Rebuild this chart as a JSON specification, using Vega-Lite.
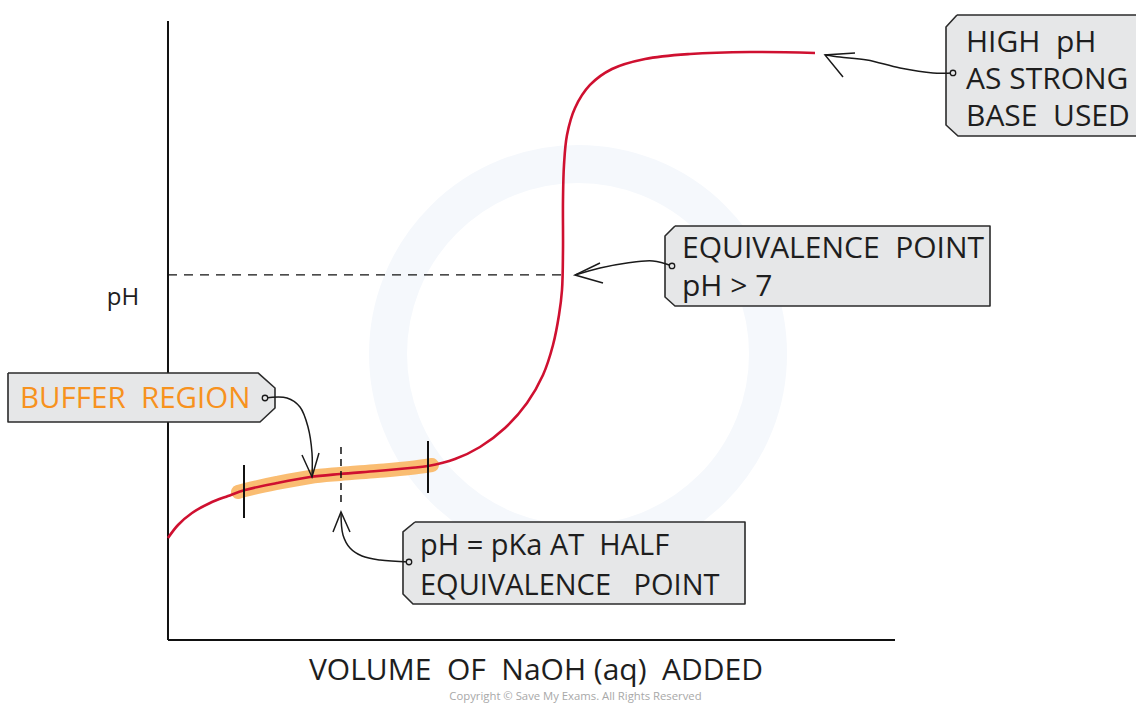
{
  "$schema": "https://vega.github.io/schema/vega-lite/v6.json",
  "width": 1136,
  "height": 704,
  "autosize": {"type": "none"},
  "padding": 0,
  "background": "white",
  "config": {"view": {"stroke": null}},
  "datasets": {
    "curve": [
      {"i": 1, "x": 0, "y": 2.311},
      {"i": 2, "x": 0.688, "y": 2.605},
      {"i": 3, "x": 1.651, "y": 2.877},
      {"i": 4, "x": 2.889, "y": 3.104},
      {"i": 5, "x": 4.127, "y": 3.262},
      {"i": 6, "x": 5.296, "y": 3.398},
      {"i": 7, "x": 7.497, "y": 3.557},
      {"i": 8, "x": 9.766, "y": 3.693},
      {"i": 9, "x": 11.829, "y": 3.761},
      {"i": 10, "x": 14.374, "y": 3.828},
      {"i": 11, "x": 16.644, "y": 3.896},
      {"i": 12, "x": 17.882, "y": 3.942},
      {"i": 13, "x": 19.739, "y": 4.1},
      {"i": 14, "x": 21.458, "y": 4.372},
      {"i": 15, "x": 23.177, "y": 4.803},
      {"i": 16, "x": 24.691, "y": 5.369},
      {"i": 17, "x": 25.791, "y": 6.003},
      {"i": 18, "x": 26.479, "y": 6.683},
      {"i": 19, "x": 26.891, "y": 7.362},
      {"i": 20, "x": 27.098, "y": 7.929},
      {"i": 21, "x": 27.166, "y": 8.835},
      {"i": 22, "x": 27.166, "y": 9.968},
      {"i": 23, "x": 27.235, "y": 10.76},
      {"i": 24, "x": 27.442, "y": 11.44},
      {"i": 25, "x": 27.992, "y": 12.052},
      {"i": 26, "x": 29.023, "y": 12.573},
      {"i": 27, "x": 30.536, "y": 12.935},
      {"i": 28, "x": 32.806, "y": 13.162},
      {"i": 29, "x": 35.901, "y": 13.275},
      {"i": 30, "x": 40.028, "y": 13.32},
      {"i": 31, "x": 44.498, "y": 13.298}
    ],
    "buffer": [
      {"i": 1, "x": 4.814, "y": 3.353},
      {"i": 2, "x": 5.296, "y": 3.398},
      {"i": 3, "x": 7.497, "y": 3.557},
      {"i": 4, "x": 9.766, "y": 3.693},
      {"i": 5, "x": 11.829, "y": 3.761},
      {"i": 6, "x": 14.374, "y": 3.828},
      {"i": 7, "x": 16.644, "y": 3.896},
      {"i": 8, "x": 18.157, "y": 3.964}
    ],
    "boxes": [
      {"id": "buffer", "i": 1, "x": -11.004, "y": 6.049},
      {"id": "buffer", "i": 2, "x": 6.19, "y": 6.049},
      {"id": "buffer", "i": 3, "x": 7.359, "y": 5.709},
      {"id": "buffer", "i": 4, "x": 7.359, "y": 5.256},
      {"id": "buffer", "i": 5, "x": 6.327, "y": 4.939},
      {"id": "buffer", "i": 6, "x": -11.004, "y": 4.939},
      {"id": "buffer", "i": 7, "x": -11.004, "y": 6.049},
      {"id": "half", "i": 1, "x": 16.988, "y": 2.673},
      {"id": "half", "i": 2, "x": 39.684, "y": 2.673},
      {"id": "half", "i": 3, "x": 39.684, "y": 0.816},
      {"id": "half", "i": 4, "x": 16.85, "y": 0.816},
      {"id": "half", "i": 5, "x": 16.162, "y": 1.042},
      {"id": "half", "i": 6, "x": 16.162, "y": 2.447},
      {"id": "half", "i": 7, "x": 16.988, "y": 2.673},
      {"id": "equiv", "i": 1, "x": 34.869, "y": 9.379},
      {"id": "equiv", "i": 2, "x": 56.534, "y": 9.379},
      {"id": "equiv", "i": 3, "x": 56.534, "y": 7.566},
      {"id": "equiv", "i": 4, "x": 34.869, "y": 7.566},
      {"id": "equiv", "i": 5, "x": 34.182, "y": 7.77},
      {"id": "equiv", "i": 6, "x": 34.182, "y": 9.152},
      {"id": "equiv", "i": 7, "x": 34.869, "y": 9.379},
      {"id": "high", "i": 1, "x": 54.264, "y": 14.158},
      {"id": "high", "i": 2, "x": 67.194, "y": 14.158},
      {"id": "high", "i": 3, "x": 67.194, "y": 11.417},
      {"id": "high", "i": 4, "x": 54.333, "y": 11.417},
      {"id": "high", "i": 5, "x": 53.508, "y": 11.667},
      {"id": "high", "i": 6, "x": 53.508, "y": 13.887},
      {"id": "high", "i": 7, "x": 54.264, "y": 14.158}
    ],
    "arrows": [
      {"id": "a1", "i": 1, "x": 6.671, "y": 5.482},
      {"id": "a1", "i": 2, "x": 8.184, "y": 5.482},
      {"id": "a1", "i": 3, "x": 9.078, "y": 5.278},
      {"id": "a1", "i": 4, "x": 9.629, "y": 4.825},
      {"id": "a1", "i": 5, "x": 9.904, "y": 4.236},
      {"id": "a1", "i": 6, "x": 9.904, "y": 3.693},
      {"id": "a2", "i": 1, "x": 16.575, "y": 1.767},
      {"id": "a2", "i": 2, "x": 14.58, "y": 1.812},
      {"id": "a2", "i": 3, "x": 13.343, "y": 1.903},
      {"id": "a2", "i": 4, "x": 12.517, "y": 2.084},
      {"id": "a2", "i": 5, "x": 12.036, "y": 2.379},
      {"id": "a2", "i": 6, "x": 11.898, "y": 2.9},
      {"id": "a3", "i": 1, "x": 34.663, "y": 8.473},
      {"id": "a3", "i": 2, "x": 33.356, "y": 8.586},
      {"id": "a3", "i": 3, "x": 31.568, "y": 8.541},
      {"id": "a3", "i": 4, "x": 29.711, "y": 8.427},
      {"id": "a3", "i": 5, "x": 27.992, "y": 8.269},
      {"id": "a4", "i": 1, "x": 53.989, "y": 12.845},
      {"id": "a4", "i": 2, "x": 52.614, "y": 12.845},
      {"id": "a4", "i": 3, "x": 50.344, "y": 12.958},
      {"id": "a4", "i": 4, "x": 48.074, "y": 13.139},
      {"id": "a4", "i": 5, "x": 46.217, "y": 13.207},
      {"id": "a4", "i": 6, "x": 45.186, "y": 13.253}
    ],
    "heads": [
      {"id": "h1", "i": 1, "x": 9.216, "y": 4.191},
      {"id": "h1", "i": 2, "x": 9.904, "y": 3.693},
      {"id": "h1", "i": 3, "x": 10.385, "y": 4.236},
      {"id": "h2", "i": 1, "x": 11.348, "y": 2.447},
      {"id": "h2", "i": 2, "x": 11.898, "y": 2.9},
      {"id": "h2", "i": 3, "x": 12.517, "y": 2.447},
      {"id": "h3", "i": 1, "x": 29.711, "y": 8.541},
      {"id": "h3", "i": 2, "x": 27.992, "y": 8.269},
      {"id": "h3", "i": 3, "x": 29.917, "y": 8.087},
      {"id": "h4", "i": 1, "x": 47.249, "y": 13.298},
      {"id": "h4", "i": 2, "x": 45.186, "y": 13.253},
      {"id": "h4", "i": 3, "x": 46.424, "y": 12.754}
    ],
    "dots": [
      {"x": 6.671, "y": 5.482},
      {"x": 16.575, "y": 1.767},
      {"x": 34.663, "y": 8.473},
      {"x": 53.989, "y": 12.845}
    ],
    "rules": [
      {"kind": "axis", "x": 0, "y": 0, "x2": 0, "y2": 14.023},
      {"kind": "axis", "x": 0, "y": 0, "x2": 50, "y2": 0},
      {"kind": "tick", "x": 5.227, "y": 3.964, "x2": 5.227, "y2": 2.764},
      {"kind": "tick", "x": 17.882, "y": 4.508, "x2": 17.882, "y2": 3.33},
      {"kind": "dashH", "x": 0, "y": 8.269, "x2": 27.166, "y2": 8.269},
      {"kind": "dashV", "x": 11.898, "y": 4.372, "x2": 11.898, "y2": 3.126}
    ],
    "labels": [
      {"kind": "buffer", "x": -10.179, "y": 5.256, "text": "BUFFER\u00a0\u00a0REGION"},
      {"kind": "half", "x": 17.331, "y": 1.925, "text": "pH = pKa AT\u00a0\u00a0HALF"},
      {"kind": "half", "x": 17.331, "y": 1.02, "text": "EQUIVALENCE\u00a0\u00a0\u00a0POINT"},
      {"kind": "box", "x": 35.351, "y": 8.654, "text": "EQUIVALENCE\u00a0\u00a0POINT"},
      {"kind": "box", "x": 35.351, "y": 7.793, "text": "pH > 7"},
      {"kind": "box", "x": 54.883, "y": 13.32, "text": "HIGH\u00a0\u00a0pH"},
      {"kind": "box", "x": 54.883, "y": 12.482, "text": "AS STRONG"},
      {"kind": "box", "x": 54.883, "y": 11.644, "text": "BASE\u00a0\u00a0USED"},
      {"kind": "ylabel", "x": -3.095, "y": 7.589, "text": "pH"},
      {"kind": "xlabel", "x": 25.309, "y": -0.906, "text": "VOLUME\u00a0\u00a0OF\u00a0\u00a0NaOH (aq)\u00a0\u00a0ADDED"},
      {"kind": "copy", "x": 28.026, "y": -1.37, "text": "Copyright © Save My Exams. All Rights Reserved"}
    ],
    "watermark": [
      {"x": 28.2, "y": 6.48}
    ]
  },
  "encoding": {
    "x": {"field": "x", "type": "quantitative", "scale": {"domain": [-11.554, 66.575], "nice": false, "zero": false}, "axis": null},
    "y": {"field": "y", "type": "quantitative", "scale": {"domain": [-1.45, 14.498], "nice": false, "zero": false}, "axis": null}
  },
  "layer": [
    {
      "data": {"name": "watermark"},
      "mark": {"type": "point", "shape": "circle", "size": 144400, "filled": false, "stroke": "#F5F8FC", "strokeWidth": 38, "opacity": 1}
    },
    {
      "data": {"name": "rules"},
      "transform": [{"filter": "datum.kind === 'axis'"}],
      "mark": {"type": "rule", "color": "#111111", "strokeWidth": 2},
      "encoding": {"x2": {"field": "x2"}, "y2": {"field": "y2"}}
    },
    {
      "data": {"name": "rules"},
      "transform": [{"filter": "datum.kind === 'dashH'"}],
      "mark": {"type": "rule", "color": "#111111", "strokeWidth": 1.3, "strokeDash": [9, 7]},
      "encoding": {"x2": {"field": "x2"}, "y2": {"field": "y2"}}
    },
    {
      "data": {"name": "boxes"},
      "mark": {"type": "line", "fill": "#E6E7E8", "stroke": "#2B2B2B", "strokeWidth": 1.6, "strokeJoin": "round"},
      "encoding": {"detail": {"field": "id"}, "order": {"field": "i", "type": "quantitative"}}
    },
    {
      "data": {"name": "buffer"},
      "mark": {"type": "line", "color": "#FAB96A", "strokeWidth": 14, "strokeCap": "round", "interpolate": "catmull-rom", "opacity": 0.95},
      "encoding": {"order": {"field": "i", "type": "quantitative"}}
    },
    {
      "data": {"name": "curve"},
      "mark": {"type": "line", "color": "#CF1030", "strokeWidth": 2.6, "interpolate": "catmull-rom"},
      "encoding": {"order": {"field": "i", "type": "quantitative"}}
    },
    {
      "data": {"name": "rules"},
      "transform": [{"filter": "datum.kind === 'tick'"}],
      "mark": {"type": "rule", "color": "#111111", "strokeWidth": 2},
      "encoding": {"x2": {"field": "x2"}, "y2": {"field": "y2"}}
    },
    {
      "data": {"name": "rules"},
      "transform": [{"filter": "datum.kind === 'dashV'"}],
      "mark": {"type": "rule", "color": "#111111", "strokeWidth": 1.5, "strokeDash": [7, 5]},
      "encoding": {"x2": {"field": "x2"}, "y2": {"field": "y2"}}
    },
    {
      "data": {"name": "arrows"},
      "mark": {"type": "line", "color": "#1A1A1A", "strokeWidth": 1.5, "interpolate": "catmull-rom"},
      "encoding": {"detail": {"field": "id"}, "order": {"field": "i", "type": "quantitative"}}
    },
    {
      "data": {"name": "heads"},
      "mark": {"type": "line", "color": "#1A1A1A", "strokeWidth": 1.5, "strokeJoin": "miter"},
      "encoding": {"detail": {"field": "id"}, "order": {"field": "i", "type": "quantitative"}}
    },
    {
      "data": {"name": "dots"},
      "mark": {"type": "point", "shape": "circle", "size": 30, "filled": true, "fill": "#E6E7E8", "stroke": "#1A1A1A", "strokeWidth": 1.3, "opacity": 1}
    },
    {
      "data": {"name": "labels"},
      "transform": [{"filter": "datum.kind === 'box'"}],
      "mark": {"type": "text", "align": "left", "baseline": "alphabetic", "font": "Open Sans", "fontSize": 30, "color": "#1E1E1E"},
      "encoding": {"text": {"field": "text"}}
    },
    {
      "data": {"name": "labels"},
      "transform": [{"filter": "datum.kind === 'half'"}],
      "mark": {"type": "text", "align": "left", "baseline": "alphabetic", "font": "Open Sans", "fontSize": 29, "color": "#1E1E1E"},
      "encoding": {"text": {"field": "text"}}
    },
    {
      "data": {"name": "labels"},
      "transform": [{"filter": "datum.kind === 'buffer'"}],
      "mark": {"type": "text", "align": "left", "baseline": "alphabetic", "font": "Open Sans", "fontSize": 29.5, "color": "#F7921E"},
      "encoding": {"text": {"field": "text"}}
    },
    {
      "data": {"name": "labels"},
      "transform": [{"filter": "datum.kind === 'ylabel'"}],
      "mark": {"type": "text", "align": "center", "baseline": "alphabetic", "font": "Open Sans", "fontSize": 24, "color": "#1E1E1E"},
      "encoding": {"text": {"field": "text"}}
    },
    {
      "data": {"name": "labels"},
      "transform": [{"filter": "datum.kind === 'xlabel'"}],
      "mark": {"type": "text", "align": "center", "baseline": "alphabetic", "font": "Open Sans", "fontSize": 30, "color": "#1E1E1E"},
      "encoding": {"text": {"field": "text"}}
    },
    {
      "data": {"name": "labels"},
      "transform": [{"filter": "datum.kind === 'copy'"}],
      "mark": {"type": "text", "align": "center", "baseline": "alphabetic", "font": "Open Sans", "fontSize": 11.3, "color": "#A8A8A8"},
      "encoding": {"text": {"field": "text"}}
    }
  ]
}
